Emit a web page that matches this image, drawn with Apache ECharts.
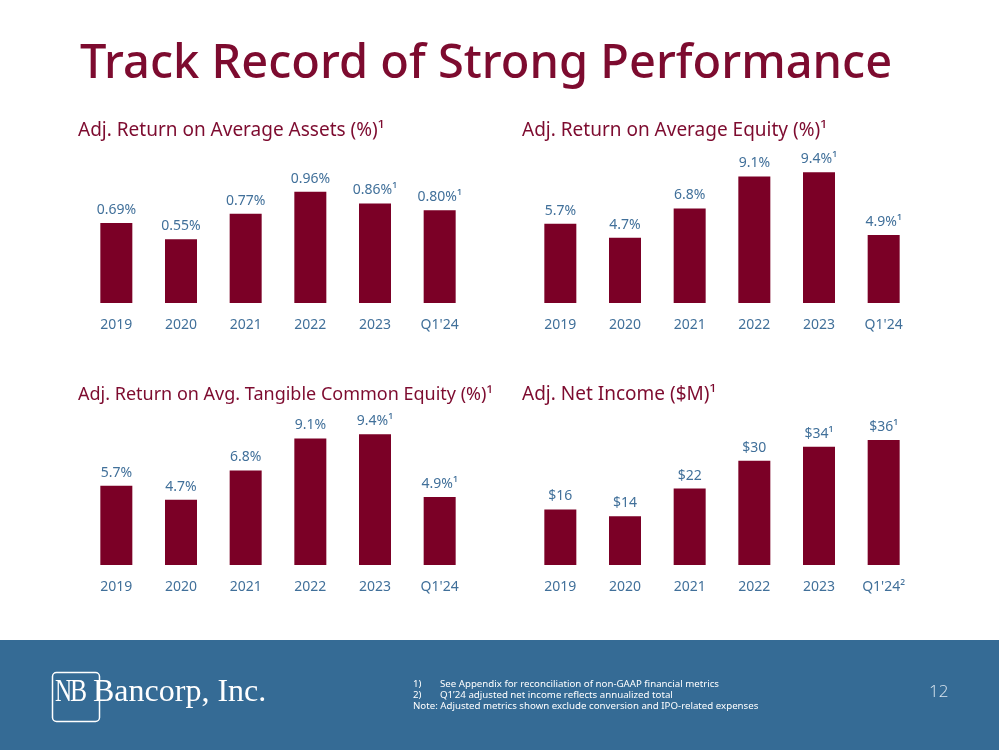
<!DOCTYPE html>
<html>
<head>
<meta charset="utf-8">
<script src="https://cdn.jsdelivr.net/npm/echarts@6/dist/echarts.min.js"></script>
<style>
html,body{margin:0;padding:0;background:#fff;}
#main{width:999px;height:750px;}
</style>
</head>
<body>
<div id="main"></div>
<script>
// ---- data ----
const categories = ['2019', '2020', '2021', '2022', '2023', "Q1'24"];
const netIncomeCategories = ['2019', '2020', '2021', '2022', '2023', "Q1'24²"];
const roaa = [0.69, 0.55, 0.77, 0.96, 0.86, 0.80];
const roaaNotes = ['', '', '', '', '¹', '¹'];
const roae = [5.7, 4.7, 6.8, 9.1, 9.4, 4.9];
const roaeNotes = ['', '', '', '', '¹', '¹'];
const roatce = [5.7, 4.7, 6.8, 9.1, 9.4, 4.9];
const roatceNotes = ['', '', '', '', '¹', '¹'];
const netIncome = [16, 14, 22, 30, 34, 36];
const netIncomeNotes = ['', '', '', '', '¹', '¹'];

const chartTitles = [
  'Adj. Return on Average Assets (%)¹',
  'Adj. Return on Average Equity (%)¹',
  'Adj. Return on Avg. Tangible Common Equity (%)¹',
  'Adj. Net Income ($M)¹'
];
const footnotes = [
  ['1)', 'See Appendix for reconciliation of non-GAAP financial metrics'],
  ['2)', 'Q1\u201924 adjusted net income reflects annualized total'],
  ['', 'Note: Adjusted metrics shown exclude conversion and IPO-related expenses']
];

// ---- styles ----
const MAROON = '#7b0026';
const TITLE = '#7d0b2f';
const BLUE = '#41709a';
const BAND = '#356b95';
const FONT = '"Noto Sans", "Open Sans", sans-serif';
const SERIF = '"Liberation Serif", "DejaVu Serif", serif';

const grids = [
  {left: 84, top: 164, width: 388, height: 139},
  {left: 528, top: 164, width: 388, height: 139},
  {left: 84, top: 426, width: 388, height: 139},
  {left: 528, top: 426, width: 388, height: 139}
];
const yMax = [1.2, 10, 10, 40];
const seriesData = [roaa, roae, roatce, netIncome];
const seriesNotes = [roaaNotes, roaeNotes, roatceNotes, netIncomeNotes];
const fmt = [
  v => v.toFixed(2) + '%',
  v => v.toFixed(1) + '%',
  v => v.toFixed(1) + '%',
  v => '$' + v
];
const cats = [categories, categories, categories, netIncomeCategories];
const titlePos = [[78, 121], [522, 121], [78, 386], [522, 385]];
const titleSize = [19, 19, 18, 19];

const chart = echarts.init(document.getElementById('main'), null, {renderer: 'canvas'});

const option = {
  backgroundColor: '#ffffff',
  animation: false,
  textStyle: {fontFamily: FONT},
  title: [
    {text: 'Track Record of Strong Performance', left: 80, top: 41, padding: 0,
     textStyle: {color: TITLE, fontSize: 47, fontWeight: 500, fontFamily: FONT}}
  ].concat(chartTitles.map((t, i) => ({
    text: t, left: titlePos[i][0], top: titlePos[i][1], padding: 0,
    textStyle: {color: TITLE, fontSize: titleSize[i], fontWeight: 'normal', fontFamily: FONT}
  }))),
  grid: grids,
  xAxis: grids.map((g, i) => ({
    type: 'category', gridIndex: i, data: cats[i],
    axisLine: {show: false}, axisTick: {show: false},
    axisLabel: {color: BLUE, fontSize: 14, margin: 15, fontFamily: FONT}
  })),
  yAxis: grids.map((g, i) => ({
    type: 'value', gridIndex: i, min: 0, max: yMax[i], show: false,
    splitLine: {show: false}
  })),
  series: seriesData.map((d, i) => ({
    type: 'bar', xAxisIndex: i, yAxisIndex: i, data: d, barWidth: 32,
    itemStyle: {color: MAROON},
    label: {
      show: true, position: 'top', distance: 6, color: BLUE, fontSize: 14,
      fontFamily: FONT,
      formatter: p => fmt[i](p.value) + seriesNotes[i][p.dataIndex]
    }
  })),
  graphic: [
    {type: 'rect', left: 0, top: 640, shape: {width: 999, height: 110},
     style: {fill: BAND}, z: -1},
    {type: 'rect', left: 50, top: 670, shape: {width: 47, height: 49, r: 4},
     style: {fill: 'none', stroke: '#ffffff', lineWidth: 1.5}},
    {type: 'text', x: 55, y: 677, scaleX: 0.74,
     style: {text: 'N', fill: '#ffffff', font: '32px ' + SERIF}},
    {type: 'text', x: 70, y: 677, scaleX: 0.8,
     style: {text: 'B', fill: '#ffffff', font: '32px ' + SERIF}},
    {type: 'text', left: 93, top: 677,
     style: {text: 'Bancorp, Inc.', fill: '#ffffff', font: '32px ' + SERIF}},
    {type: 'text', left: 929, top: 684,
     style: {text: '12', fill: '#dce7f1', font: '300 17px "Open Sans", "Noto Sans", sans-serif'}}
  ].concat(footnotes.flatMap((f, i) => {
    const y = 679 + i * 11;
    const font = '9.7px ' + FONT;
    if (f[0]) {
      return [
        {type: 'text', left: 413, top: y, style: {text: f[0], fill: '#ffffff', font: font}},
        {type: 'text', left: 440, top: y, style: {text: f[1], fill: '#ffffff', font: font}}
      ];
    }
    return [{type: 'text', left: 413, top: y, style: {text: f[1], fill: '#ffffff', font: font}}];
  }))
};
chart.setOption(option);
</script>
</body>
</html>
